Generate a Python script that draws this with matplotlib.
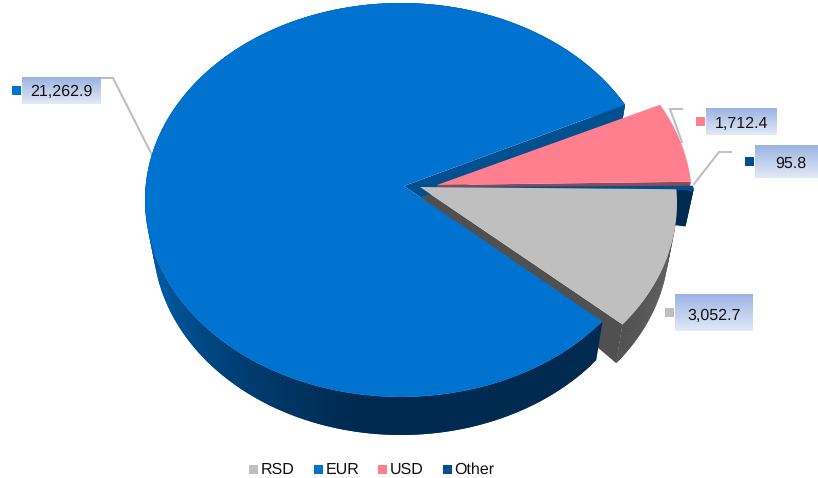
import numpy as np
import matplotlib
matplotlib.use("Agg")
import matplotlib.pyplot as plt
from matplotlib.colors import LinearSegmentedColormap
from matplotlib.patches import Polygon, Rectangle

plt.rcParams['font.family'] = ['Liberation Sans', 'DejaVu Sans']
plt.rcParams['text.hinting'] = 'none'
plt.rcParams['text.hinting_factor'] = 1

# data
categories = ['RSD', 'EUR', 'USD', 'Other']
values = [3052.7, 21262.9, 1712.4, 95.8]
value_labels = ['3,052.7', '21,262.9', '1,712.4', '95.8']

# colours
top_colors = ['#bfbfbf', '#0072d0', '#ff7f8e', '#00508f']
cut_colors = ['#505050', '#00508f', '#8a4a58', '#002a50']

# pie geometry, in pixels of the 818x478 picture
first_angle = 4.0          # where RSD starts, going clockwise
rx_top, ry_top = 256, 197
rx_bot, ry_bot = 248, 195
centers = {'RSD': (421, 203), 'EUR': (401, 200), 'USD': (436, 200), 'Other': (438, 204)}
apex_top = {'RSD': (420, 187), 'EUR': (404, 186), 'USD': (437, 185), 'Other': (428, 187)}
apex_bot = {'RSD': (420, 197), 'EUR': (420, 197), 'USD': (437, 189), 'Other': (438, 198)}
depths = {'RSD': 40, 'EUR': 40, 'USD': 40, 'Other': 36}

fig = plt.figure(figsize=(8.18, 4.78), dpi=100)
ax = fig.add_axes([0, 0, 1, 1])


def rim_top(name, t):
    cx, cy = centers[name]
    return np.c_[cx + rx_top * np.cos(np.radians(t)), cy - ry_top * np.sin(np.radians(t))]


def rim_bot(name, t):
    cx, cy = centers[name]
    return np.c_[cx + rx_bot * np.cos(np.radians(t)), cy + depths[name] - ry_bot * np.sin(np.radians(t))]


def fill(points, color, z):
    ax.add_patch(Polygon(points, closed=True, fc=color, ec='none', zorder=z))


# angle ranges come from the values
spans = np.array(values) / np.sum(values) * 360
ends = first_angle - np.cumsum(spans)
starts = ends + spans
ranges = {n: (s, e) for n, s, e in zip(categories, starts, ends)}

wall_shade = LinearSegmentedColormap.from_list(
    'wall', ['#0060a8', '#0058a0', '#003f75', '#002a50', '#002a50'])


def draw_wall(name, z, wall_color=None):
    s, e = ranges[name]
    t = np.linspace(s, e, 181)
    # short overlapping pieces, so that it can be shaded without seams
    for i in range(len(t) - 1):
        seg = np.array([t[i], t[min(i + 2, len(t) - 1)]])
        pts = np.vstack([rim_top(name, seg), rim_bot(name, seg[::-1])])
        if wall_color is None:
            col = wall_shade(np.clip(((t[i] % 360) - 170) / 120, 0, 1))
        else:
            col = wall_color
        fill(pts, col, z)


def draw_cut(name, ang, z):
    a = np.array([ang])
    pts = np.vstack([[apex_top[name]], rim_top(name, a), rim_bot(name, a), [apex_bot[name]]])
    fill(pts, cut_colors[categories.index(name)], z)


def draw_top(name, z):
    s, e = ranges[name]
    t = np.linspace(s, e, 181)
    fill(np.vstack([[apex_top[name]], rim_top(name, t)]), top_colors[categories.index(name)], z)


# RSD sides first, EUR lies over them; RSD top goes on last
draw_wall('RSD', 2.0, cut_colors[0])
draw_cut('RSD', ranges['RSD'][1], 2.1)
draw_wall('EUR', 2.2)
draw_cut('EUR', ranges['EUR'][1], 2.3)
draw_top('EUR', 2.4)
draw_cut('USD', ranges['USD'][1], 2.6)
draw_top('USD', 2.7)
draw_wall('Other', 2.8, cut_colors[3])
draw_cut('Other', ranges['Other'][1], 2.9)
draw_top('Other', 3.0)
draw_top('RSD', 3.1)

# leader lines
leaders = [
    ([102, 113, 153], [78, 78, 157]),
    ([682, 670, 682], [109, 109, 142]),
    ([731, 719, 694], [152, 152, 184]),
]
for lx, ly in leaders:
    ax.plot(lx, ly, color='#bfbfbf', lw=1.5, zorder=1, solid_joinstyle='miter')

# value labels with gradient boxes: left, top, width, height, text centre, baseline
label_boxes = {
    'EUR': (22, 77, 79, 27, 61, 96),
    'USD': (706, 108, 71, 27, 741, 128),
    'Other': (755, 145, 63, 33, 791, 168),
    'RSD': (675, 294, 78, 37, 714, 320),
}
grad = LinearSegmentedColormap.from_list('box', ['#9bb3e2', '#e3e9f7'])
ramp = np.linspace(0, 1, 64).reshape(-1, 1)
for name, (bx, by, bw, bh, tx, ty) in label_boxes.items():
    i = categories.index(name)
    ax.imshow(ramp, cmap=grad, extent=(bx, bx + bw, by + bh, by), aspect='auto', zorder=7)
    ax.text(tx, ty, value_labels[i], ha='center', va='baseline',
            fontsize=11.6, color='#111111', zorder=8)
    ax.add_patch(Rectangle((bx - 10, by + bh / 2 - 4.5), 9, 9, fc=top_colors[i], ec='none', zorder=8))

# legend
legend_x = [249, 314, 378, 443]
for name, lx in zip(categories, legend_x):
    i = categories.index(name)
    ax.add_patch(Rectangle((lx, 465), 9, 9, fc=top_colors[i], ec='none', zorder=8))
    ax.text(lx + 11.5, 474, name, ha='left', va='baseline', fontsize=11.2, color='#111111', zorder=8)

ax.set_xlim(0, 818)
ax.set_ylim(478, 0)
ax.axis('off')
fig.savefig('out.png', dpi=100, facecolor='white')
